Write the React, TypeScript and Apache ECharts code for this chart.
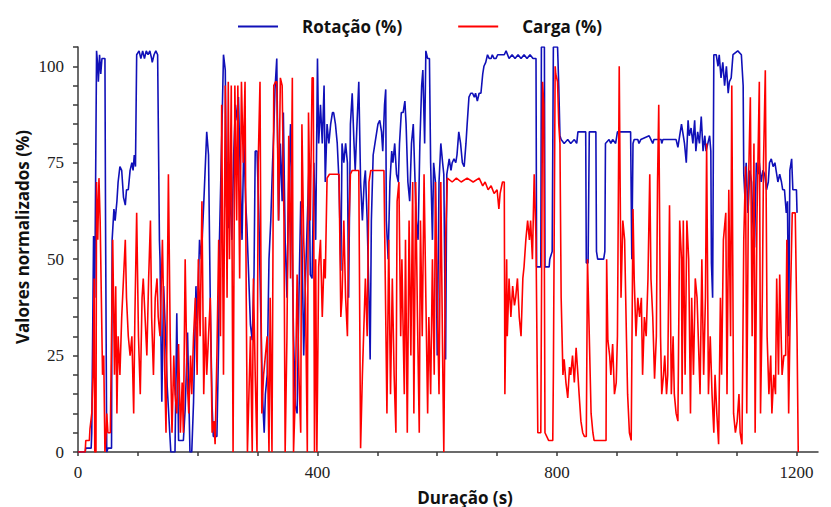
import React, { useEffect, useRef } from "react";
import * as echarts from "echarts";

const seriesNames = ["Rotação (%)", "Carga (%)"];
const xTickLabels = [0, 400, 800, 1200];
const yTickLabels = [0, 25, 50, 75, 100];

const rotacao: [number, number][] = [
  [0,0],[12,0],[13,1],[22,1],[23,5],[26,56],[28,40],[31,104],[33,100],[34,96],[36,103],[38,98],[40,102],[45,102],[46,60],[48,0],[50,1],[56,1],[57,55],[60,63],[62,60],[65,65],[67,70],[70,74],[73,73],[76,66],[79,64],[81,68],[84,68],[87,73],[90,75],[92,73],[94,77],[96,74],[98,103],[102,104],[105,102],[108,104],[111,102],[114,104],[117,103],[120,104],[123,102],[124,101],[127,103],[130,104],[133,103],[136,55],[137,50],[140,13],[143,43],[146,31],[149,17],[155,0],[162,0],[165,36],[168,3],[176,3],[179,11],[183,31],[187,0],[190,0],[193,13],[197,43],[199,33],[203,55],[206,50],[211,68],[215,83],[218,77],[221,38],[224,12],[226,4],[232,4],[235,29],[236,53],[240,81],[243,103],[246,99],[248,64],[252,58],[254,68],[257,55],[260,77],[263,90],[266,86],[268,92],[271,72],[274,55],[277,81],[280,65],[282,59],[285,46],[288,33],[291,29],[294,46],[296,78],[299,78],[302,62],[305,38],[308,15],[311,5],[313,15],[316,20],[319,50],[322,60],[325,75],[327,83],[329,94],[332,102],[335,60],[338,80],[341,65],[343,88],[346,55],[349,40],[352,70],[355,85],[357,60],[360,30],[363,12],[366,10],[369,40],[372,65],[374,55],[377,25],[380,45],[383,60],[386,75],[388,46],[391,45],[394,75],[397,55],[400,102],[402,80],[405,90],[408,80],[411,95],[413,70],[416,85],[419,80],[422,85],[425,88],[427,88],[430,85],[433,80],[436,70],[439,47],[441,80],[444,75],[447,80],[450,75],[452,40],[455,85],[458,93],[461,80],[463,73],[466,85],[469,96],[472,70],[475,60],[478,70],[480,73],[483,60],[486,40],[488,24],[490,60],[493,77],[496,80],[498,82],[501,85],[504,86],[507,83],[509,78],[512,90],[514,94],[515,60],[518,50],[521,70],[524,78],[526,75],[529,80],[532,72],[535,70],[537,80],[540,88],[543,88],[546,91],[548,85],[551,70],[554,65],[557,80],[560,85],[562,75],[565,60],[568,55],[571,80],[574,95],[576,99],[579,80],[581,104],[584,102],[587,102],[589,75],[592,55],[594,75],[597,70],[600,25],[603,70],[606,80],[609,75],[611,72],[614,24],[616,72],[620,76],[623,73],[625,75],[628,76],[631,75],[633,77],[636,83],[639,80],[642,75],[645,74],[648,80],[650,85],[653,92],[656,93],[659,93],[662,92],[664,93],[667,91],[670,93],[673,93],[676,98],[678,100],[681,101],[684,103],[687,102],[690,102],[692,103],[695,102],[698,102],[701,103],[705,103],[709,103],[712,103],[715,104],[720,102],[725,103],[730,102],[735,103],[740,102],[745,103],[750,102],[755,103],[760,102],[765,102],[766,48],[773,48],[774,105],[779,105],[780,48],[787,48],[788,50],[792,52],[794,105],[801,105],[803,95],[805,82],[807,81],[812,80],[818,81],[823,80],[829,81],[833,80],[835,83],[848,83],[849,49],[852,49],[854,83],[865,83],[866,52],[868,50],[878,50],[880,52],[881,80],[887,81],[890,80],[893,81],[898,80],[901,83],[923,83],[925,50],[927,80],[929,81],[935,81],[937,80],[940,81],[954,82],[957,81],[960,80],[962,81],[974,81],[975,80],[977,81],[999,81],[1002,79],[1005,82],[1008,85],[1011,82],[1013,80],[1016,75],[1019,86],[1021,82],[1024,84],[1027,80],[1030,86],[1032,78],[1035,83],[1038,80],[1041,87],[1044,78],[1047,82],[1049,78],[1052,80],[1055,82],[1057,78],[1058,49],[1060,40],[1062,103],[1066,103],[1069,100],[1071,103],[1074,97],[1077,101],[1080,95],[1083,100],[1086,93],[1088,96],[1091,97],[1094,103],[1102,104],[1108,103],[1111,95],[1112,72],[1114,66],[1116,75],[1119,62],[1122,73],[1125,70],[1127,60],[1130,53],[1133,75],[1136,72],[1138,75],[1141,70],[1144,73],[1147,72],[1150,68],[1153,70],[1155,75],[1158,76],[1161,74],[1164,75],[1166,73],[1169,70],[1172,72],[1175,70],[1177,68],[1180,68],[1183,62],[1185,65],[1187,30],[1189,73],[1192,76],[1194,68],[1200,68],[1201,62]
];

const carga: [number, number][] = [
  [0,0],[12,0],[13,3],[19,3],[20,6],[23,10],[25,20],[27,45],[28,0],[30,0],[31,70],[33,55],[35,71],[37,60],[39,40],[41,20],[43,25],[45,0],[47,5],[48,10],[50,5],[54,5],[56,30],[58,55],[61,20],[63,43],[65,10],[67,30],[70,20],[73,35],[76,45],[79,55],[81,40],[84,30],[87,25],[90,30],[93,10],[95,35],[98,62],[101,30],[104,15],[107,40],[109,45],[112,35],[115,25],[118,45],[121,60],[123,35],[126,20],[129,40],[132,45],[134,35],[137,30],[141,55],[145,20],[147,5],[151,72],[154,30],[157,5],[160,25],[162,15],[165,10],[168,28],[171,5],[174,18],[176,5],[179,50],[182,20],[185,10],[188,25],[190,15],[193,30],[196,40],[199,20],[201,50],[204,30],[207,65],[210,15],[213,35],[215,20],[218,30],[221,40],[224,5],[227,8],[229,2],[232,25],[235,55],[238,30],[240,90],[243,20],[246,95],[249,40],[251,96],[253,50],[256,95],[259,0],[262,95],[265,60],[267,95],[270,45],[273,96],[276,75],[279,96],[281,40],[283,0],[288,30],[291,0],[293,45],[296,20],[299,0],[301,75],[304,96],[306,35],[307,10],[310,20],[313,25],[316,30],[319,0],[321,40],[324,0],[327,95],[330,96],[332,96],[335,60],[338,97],[341,95],[344,60],[346,0],[349,30],[352,82],[355,45],[358,97],[360,0],[363,15],[366,46],[369,20],[372,5],[374,85],[377,55],[380,40],[383,0],[385,88],[388,60],[391,97],[393,97],[395,0],[397,50],[399,0],[402,48],[405,55],[408,35],[411,50],[413,45],[416,71],[420,72],[428,72],[436,72],[439,35],[441,40],[444,60],[447,40],[450,30],[452,55],[455,72],[458,73],[469,73],[472,1],[475,20],[478,35],[480,45],[483,30],[486,70],[489,73],[511,73],[514,35],[516,10],[519,55],[522,15],[525,45],[528,20],[531,5],[533,65],[536,70],[539,30],[541,50],[545,15],[547,55],[550,5],[553,60],[556,25],[559,70],[561,10],[564,70],[567,35],[570,5],[572,60],[575,30],[578,72],[581,40],[584,10],[586,35],[589,15],[592,50],[595,20],[597,70],[600,40],[603,15],[606,70],[609,25],[611,0],[614,55],[617,71],[625,70],[632,71],[640,70],[650,71],[660,70],[670,71],[676,69],[680,70],[685,68],[690,69],[695,67],[700,68],[703,63],[705,67],[709,70],[712,70],[713,15],[716,50],[717,30],[720,45],[723,35],[726,43],[729,38],[731,40],[734,45],[737,35],[740,30],[743,45],[745,48],[748,55],[751,60],[754,55],[756,60],[759,50],[762,72],[765,55],[768,5],[773,5],[776,96],[778,90],[780,5],[786,3],[793,3],[794,20],[797,100],[798,98],[801,96],[803,85],[805,80],[807,40],[810,20],[812,24],[815,18],[818,14],[821,22],[823,20],[826,25],[829,18],[832,27],[835,20],[837,15],[840,8],[843,5],[846,4],[849,4],[851,50],[854,30],[857,10],[860,5],[862,3],[882,3],[883,50],[885,29],[888,25],[890,20],[893,28],[896,15],[899,18],[901,30],[904,100],[907,40],[910,60],[913,55],[916,30],[918,15],[921,5],[924,3],[927,63],[929,45],[932,30],[935,40],[938,35],[941,40],[943,20],[946,35],[949,30],[952,45],[955,72],[957,45],[960,35],[963,19],[966,30],[968,70],[970,90],[973,30],[975,15],[978,20],[980,25],[983,15],[985,20],[988,64],[991,15],[994,30],[996,15],[999,10],[1002,8],[1005,60],[1008,50],[1009,15],[1011,60],[1014,20],[1017,60],[1020,50],[1023,10],[1025,40],[1028,20],[1031,45],[1034,40],[1036,30],[1039,15],[1042,50],[1045,20],[1048,40],[1050,80],[1053,15],[1056,30],[1059,15],[1062,5],[1064,20],[1067,10],[1070,2],[1073,40],[1075,20],[1078,55],[1082,62],[1084,15],[1087,68],[1090,30],[1092,95],[1095,10],[1098,5],[1101,8],[1104,15],[1106,5],[1109,2],[1112,55],[1115,74],[1117,10],[1120,70],[1123,92],[1126,30],[1129,80],[1131,5],[1134,60],[1138,96],[1140,10],[1143,40],[1145,75],[1148,99],[1151,30],[1154,15],[1157,25],[1159,10],[1162,20],[1165,15],[1167,45],[1170,20],[1172,46],[1176,20],[1179,25],[1182,25],[1184,55],[1187,10],[1190,40],[1193,62],[1198,62],[1201,30],[1203,0]
];

const BLUE = "#1010b8";
const RED = "#ff0000";
const AXIS = "#3a3a3a";
const SERIF = "'Liberation Serif', 'Times New Roman', serif";
const SANS = "'Open Sans', 'Noto Sans', sans-serif";

export default function App() {
  const ref = useRef<HTMLDivElement>(null);
  useEffect(() => {
    document.body.style.margin = "0";
    if (!ref.current) return;
    const chart = echarts.init(ref.current, null, { renderer: "svg" });
    const xTicks: number[] = [];
    for (let v = 0; v <= 1200; v += 100) xTicks.push(v);
    const yTicks: number[] = [];
    for (let v = 0; v <= 105; v += 5) yTicks.push(v);
    chart.setOption({
      animation: false,
      backgroundColor: "#ffffff",
      grid: { left: 78, right: 13, top: 47, bottom: 55, containLabel: false, outerBoundsMode: "none" },
      legend: {
        data: seriesNames,
        left: 233,
        top: 13,
        icon: "rect",
        itemWidth: 40,
        itemHeight: 2,
        itemGap: 56,
        textStyle: { fontFamily: SANS, fontWeight: "bold", fontSize: 17, color: "#111", padding: [0, 0, 0, 19] },
      },
      xAxis: {
        type: "value",
        min: 0,
        max: 1236,
        interval: 100,
        splitLine: { show: false },
        axisLine: { show: true, onZero: false, lineStyle: { color: AXIS, width: 1.5 } },
        axisTick: { show: true, inside: false, length: 4, lineStyle: { color: AXIS, width: 1.5 }, customValues: xTicks },
        axisLabel: {
          margin: 12,
          fontFamily: SERIF,
          fontSize: 17,
          color: "#222",
          customValues: xTickLabels,
          formatter: (v: number) => (xTickLabels.indexOf(v) >= 0 ? String(v) : ""),
        },
      },
      yAxis: {
        type: "value",
        min: 0,
        max: 105,
        interval: 5,
        splitLine: { show: false },
        axisLine: { show: true, onZero: false, lineStyle: { color: AXIS, width: 1.5 } },
        axisTick: { show: true, inside: false, length: 5, lineStyle: { color: AXIS, width: 1.5 }, customValues: yTicks },
        axisLabel: {
          margin: 14,
          fontFamily: SERIF,
          fontSize: 17,
          color: "#222",
          customValues: yTickLabels,
          formatter: (v: number) => (yTickLabels.indexOf(v) >= 0 ? String(v) : ""),
        },
      },
      graphic: [
        {
          type: "text",
          x: 465,
          y: 497,
          style: { text: "Duração (s)", fill: "#111", font: `bold 17px ${SANS}`, textAlign: "center", textVerticalAlign: "middle" },
        },
        {
          type: "text",
          x: 22,
          y: 237,
          rotation: Math.PI / 2,
          style: { text: "Valores normalizados (%)", fill: "#111", font: `bold 17px ${SANS}`, textAlign: "center", textVerticalAlign: "middle" },
        },
      ],
      series: [
        {
          name: seriesNames[0],
          type: "line",
          data: rotacao,
          symbol: "none",
          color: BLUE,
          lineStyle: { color: BLUE, width: 1.6 },
          z: 2,
        },
        {
          name: seriesNames[1],
          type: "line",
          data: carga,
          symbol: "none",
          color: RED,
          lineStyle: { color: RED, width: 1.6 },
          z: 3,
        },
      ],
    });
    return () => chart.dispose();
  }, []);
  return <div ref={ref} style={{ width: 831, height: 507 }} />;
}
